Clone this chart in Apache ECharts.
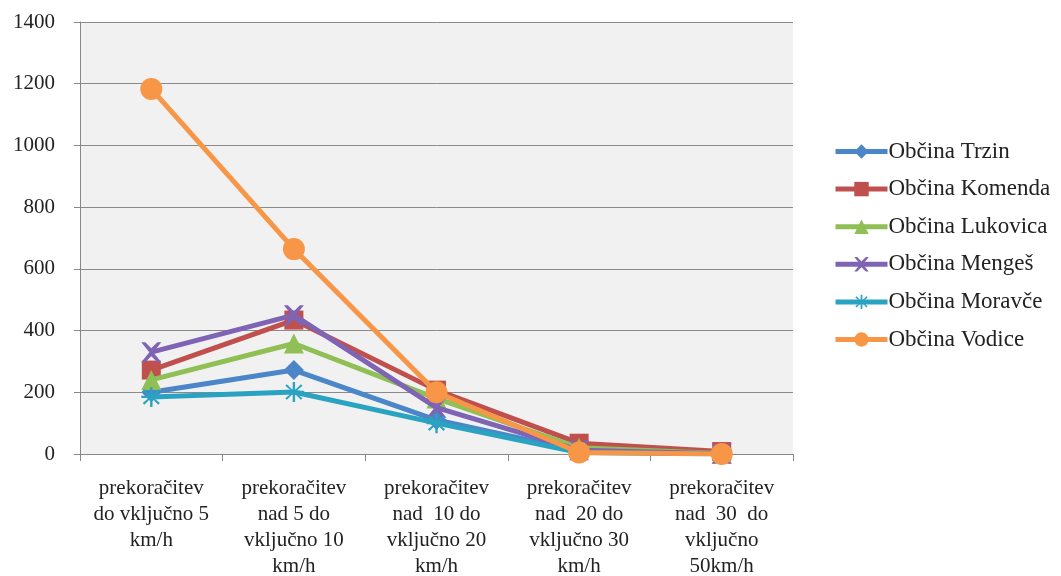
<!DOCTYPE html>
<html><head><meta charset="utf-8">
<script src="https://cdn.jsdelivr.net/npm/echarts@6/dist/echarts.min.js"></script>
<style>html,body{margin:0;padding:0;background:#fff}#c{width:1061px;height:576px}</style>
</head><body><div id="c"></div>
<script>
const categories = [
  "prekoračitev\ndo vključno 5\nkm/h",
  "prekoračitev\nnad 5 do\nvključno 10\nkm/h",
  "prekoračitev\nnad  10 do\nvključno 20\nkm/h",
  "prekoračitev\nnad  20 do\nvključno 30\nkm/h",
  "prekoračitev\nnad  30  do\nvključno\n50km/h"
];
const trzin    = [200, 272, 110, 10, 1];
const komenda  = [272, 434, 207, 35, 8];
const lukovica = [240, 358, 180, 20, 2];
const menges   = [330, 450, 150, 12, 1];
const moravce  = [185, 201, 100, 5, 0];
const vodice   = [1183, 664, 200, 5, 0];
const yTicks = [0, 200, 400, 600, 800, 1000, 1200, 1400];

const names = ["Občina Trzin","Občina Komenda","Občina Lukovica","Občina Mengeš","Občina Moravče","Občina Vodice"];
const colors = ["#4a86c8","#c0504d","#8fbf55","#7f63b5","#2aa3c2","#f79646"];
const xPath = 'path://M0,0 L2,0 L5,3 L8,0 L10,0 L6,5 L10,10 L8,10 L5,7 L2,10 L0,10 L4,5 Z';
const starPath = 'path://M4.4,0 H5.6 V4 L8.5,1.1 L9.3,1.9 L6.3,4.4 H10 V5.6 H6.3 L9.3,8.1 L8.5,8.9 L5.6,6 V10 H4.4 V6 L1.5,8.9 L0.7,8.1 L3.7,5.6 H0 V4.4 H3.7 L0.7,1.9 L1.5,1.1 L4.4,4 Z';
const symbols = ['diamond','rect','triangle',xPath,starPath,'circle'];
const sizes = [20,19,20,20,20,22];
const dataSets = [trzin, komenda, lukovica, menges, moravce, vodice];

const chart = echarts.init(document.getElementById('c'));
chart.setOption({
  animation:false,
  backgroundColor:'#fff',
  textStyle:{fontFamily:'Liberation Serif'},
  grid:{left:80,top:22,right:268,bottom:122,outerBoundsMode:'none',containLabel:false,show:true,backgroundColor:'#f1f1f1',borderWidth:0},
  legend:{
    orient:'vertical', left:828, top:135, itemWidth:52, itemHeight:18, itemGap:14.6,
    lineStyle:{width:5},
    textStyle:{fontFamily:'Liberation Serif',fontSize:23,color:'#222',padding:[0,0,0,-4]},
    data:names
  },
  xAxis:{
    type:'category', data:categories, boundaryGap:true,
    axisLine:{lineStyle:{color:'#888',width:1}},
    axisTick:{show:true,length:7,lineStyle:{color:'#888'}},
    axisLabel:{fontFamily:'Liberation Serif',fontSize:21,color:'#222',lineHeight:26,margin:21,interval:0}
  },
  yAxis:{
    type:'value', min:yTicks[0], max:yTicks[yTicks.length-1], interval:200,
    axisLine:{show:true,lineStyle:{color:'#888'}},
    axisTick:{show:true,length:6,inside:false,lineStyle:{color:'#888'}},
    axisLabel:{fontFamily:'Liberation Serif',fontSize:21,color:'#222',margin:25,formatter:v=>String(v)},
    splitLine:{lineStyle:{color:'#8a8a8a',width:1}}
  },
  series: dataSets.map((d,i)=>({
    name:names[i], type:'line', data:d,
    symbol:symbols[i], symbolSize:sizes[i],
    lineStyle:{color:colors[i],width:5},
    itemStyle:{color:colors[i]},
    z: 2+i
  }))
});
</script></body></html>
